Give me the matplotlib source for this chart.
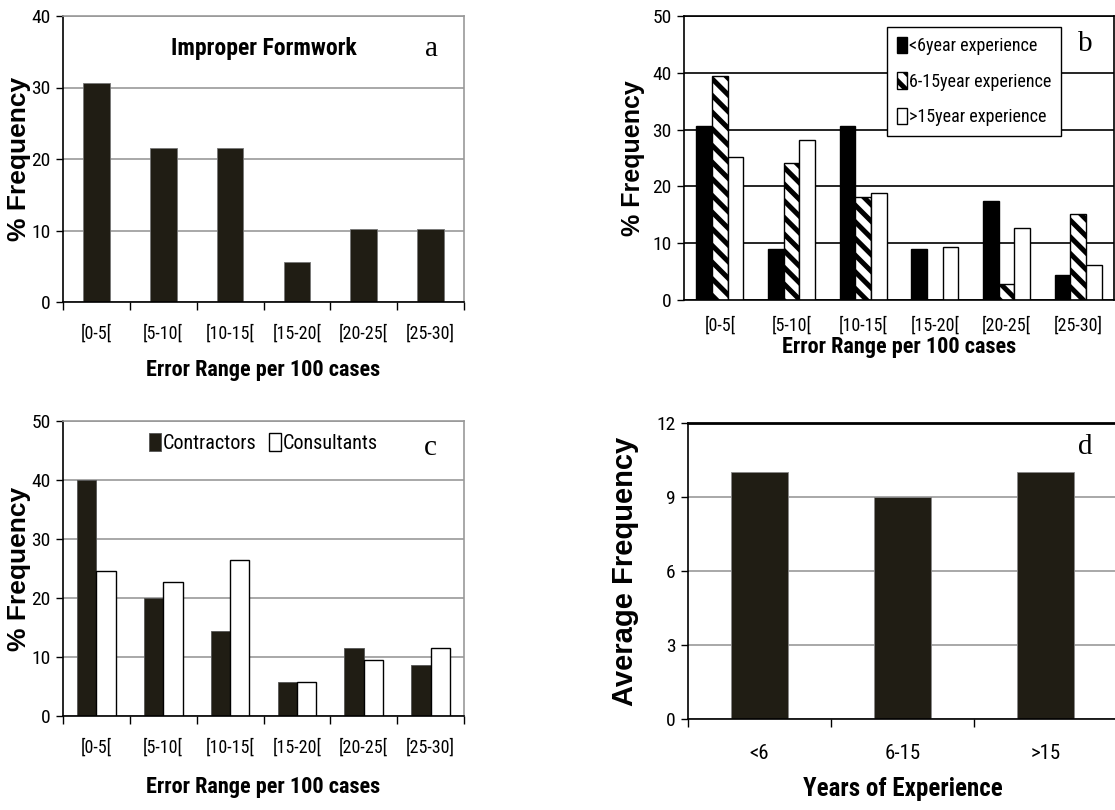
import numpy as np
import matplotlib
matplotlib.use("Agg")
import matplotlib.pyplot as plt
import matplotlib.font_manager as fm

# data
ranges = ["[0-5[", "[5-10[", "[10-15[", "[15-20[", "[20-25[", "[25-30]"]
formwork = [30.6, 21.5, 21.5, 5.6, 10.2, 10.2]

exp_less6 = [30.6, 8.9, 30.6, 8.9, 17.5, 4.4]
exp_6_15 = [39.4, 24.1, 18.1, 0.0, 2.9, 15.1]
exp_more15 = [25.1, 28.2, 18.9, 9.3, 12.6, 6.2]
exp_labels = ["<6year experience", "6-15year experience", ">15year experience"]

contractors = [40.0, 20.0, 14.4, 5.7, 11.5, 8.6]
consultants = [24.6, 22.7, 26.5, 5.7, 9.5, 11.5]

years = ["<6", "6-15", ">15"]
avg_freq = [10.0, 9.0, 10.0]

ARIAL = ["Liberation Sans", "DejaVu Sans"]
SERIF = ["Liberation Serif", "DejaVu Serif"]
DARK = "#201d14"
GRIDGREY = "#999999"


# look for an installed narrow/condensed sans (the chart uses Arial Narrow)
def _w(f):
    w = f.weight
    if isinstance(w, str):
        w = {"bold": 700, "semibold": 600, "demibold": 600, "heavy": 800, "black": 900,
             "normal": 400, "regular": 400, "book": 400, "medium": 500, "light": 300}.get(w.lower(), 400)
    return w


def pick_narrow(bold):
    order = ["Liberation", "Arial", "Roboto", "Noto Sans", "Open Sans", "DejaVu", "Lato", "Inter"]
    best = None
    for f in fm.fontManager.ttflist:
        narrow = ("Narrow" in f.name or "Condensed" in f.name or
                  f.stretch in ("condensed", "semi-condensed", "extra-condensed", 600, 500) or
                  "Condensed" in f.fname or "Narrow" in f.fname)
        if not narrow or f.style != "normal" or "Mono" in f.name or "Serif" in f.name:
            continue
        if "Extra" in f.fname or "Semi" in f.fname:
            continue
        w = _w(f)
        if bold and w < 600 or (not bold) and w >= 600 or w < 400:
            continue
        rank = next((i for i, o in enumerate(order) if o in f.name), len(order))
        if best is None or rank < best[0]:
            best = (rank, f.fname)
    if best is None:
        return dict(family="Liberation Sans", weight="bold" if bold else "normal")
    return dict(fname=best[1])


NREG = pick_narrow(False)
NBOLD = pick_narrow(True)


def fp(d, size):
    return fm.FontProperties(size=size, **d)


plt.rcParams["hatch.linewidth"] = 3.6

W, H = 1115, 810
fig = plt.figure(figsize=(W / 100, H / 100), dpi=100)


def add_ax(left, right, top, bottom):
    return fig.add_axes([left / W, 1 - bottom / H, (right - left) / W, (bottom - top) / H])


def style(ax, ymax, step, grid_color, frame_color, xticks=True, lsize=13):
    ax.set_ylim(0, ymax)
    ax.set_yticks(np.arange(0, ymax + 0.1, step))
    ax.yaxis.grid(True, color=grid_color, lw=1.2)
    ax.set_axisbelow(True)
    for s in ["top", "right"]:
        ax.spines[s].set_color(frame_color)
        ax.spines[s].set_linewidth(1.2)
    for s in ["left", "bottom"]:
        ax.spines[s].set_color("black")
        ax.spines[s].set_linewidth(1.2)
    ax.tick_params(axis="y", direction="out", length=5, width=1, pad=4)
    ax.tick_params(axis="x", which="major", length=0)
    if xticks:
        ax.tick_params(axis="x", which="minor", direction="out", length=6, width=1)
    for lbl in ax.get_yticklabels():
        lbl.set_fontproperties(fp(NREG, 14))
    for lbl in ax.get_xticklabels():
        lbl.set_fontproperties(fp(NREG, lsize))


def cat_axis(ax, labels, pad):
    n = len(labels)
    ax.set_xlim(-0.5, n - 0.5)
    ax.set_xticks(np.arange(n))
    ax.set_xticklabels(labels)
    ax.set_xticks(np.arange(n + 1) - 0.5, minor=True)
    ax.tick_params(axis="x", which="major", pad=pad)


x = np.arange(len(ranges))

# ---- a
ax = add_ax(63, 464, 16, 302)
ax.bar(x, formwork, width=0.4, color=DARK, edgecolor="#777777", lw=0.6)
cat_axis(ax, ranges, 16)
style(ax, 40, 10, GRIDGREY, GRIDGREY)
ax.text(0.5, 0.885, "Improper Formwork", transform=ax.transAxes, ha="center", va="center",
        fontproperties=fp(NBOLD, 17))
ax.text(0.92, 0.885, "a", transform=ax.transAxes, ha="center", va="center", fontsize=21, family=SERIF)
ax.set_ylabel("% Frequency", fontsize=19, fontweight="bold", family=ARIAL)
ax.yaxis.set_label_coords(-0.08, 0.5)
ax.set_xlabel("Error Range per 100 cases", fontproperties=fp(NBOLD, 16))
ax.xaxis.set_label_coords(0.5, -0.2)

# ---- b
ax = add_ax(684, 1114, 16, 300)
bw = 0.22
ax.bar(x - bw, exp_less6, width=bw, color="black", edgecolor="black", lw=1, label=exp_labels[0])
ax.bar(x, exp_6_15, width=bw, color="white", edgecolor="black", lw=1, hatch="\\\\", label=exp_labels[1])
ax.bar(x + bw, exp_more15, width=bw, color="white", edgecolor="black", lw=1, label=exp_labels[2])
cat_axis(ax, ranges, 12)
style(ax, 50, 10, "black", "black", xticks=False)
ax.tick_params(axis="x", which="minor", length=0)
leg = ax.legend(loc="upper left", bbox_to_anchor=(0.472, 0.961), borderaxespad=0, prop=fp(NREG, 13),
                fancybox=False, edgecolor="black", framealpha=1, handlelength=0.55, handleheight=1.0,
                handletextpad=0.1, labelspacing=0.95, borderpad=0.55)
leg.get_frame().set_linewidth(1.0)
ax.text(0.933, 0.9, "b", transform=ax.transAxes, ha="center", va="center", fontsize=21, family=SERIF)
ax.set_ylabel("% Frequency", fontsize=18, fontweight="bold", family=ARIAL)
ax.yaxis.set_label_coords(-0.09, 0.5)
ax.set_xlabel("Error Range per 100 cases", fontproperties=fp(NBOLD, 16))
ax.xaxis.set_label_coords(0.5, -0.125)

# ---- c
ax = add_ax(63, 464, 421, 716)
cw = 0.29
ax.bar(x - cw / 2, contractors, width=cw, color=DARK, edgecolor="#555555", lw=0.6, label="Contractors")
ax.bar(x + cw / 2, consultants, width=cw, color="white", edgecolor="black", lw=1, label="Consultants")
cat_axis(ax, ranges, 16)
style(ax, 50, 10, GRIDGREY, GRIDGREY)
ax.legend(loc="center", bbox_to_anchor=(0.5, 0.925), ncol=2, frameon=False, prop=fp(NREG, 14.5),
          handlelength=0.6, handleheight=1.0, handletextpad=0.1, columnspacing=0.6)
ax.text(0.915, 0.91, "c", transform=ax.transAxes, ha="center", va="center", fontsize=21, family=SERIF)
ax.set_ylabel("% Frequency", fontsize=19, fontweight="bold", family=ARIAL)
ax.yaxis.set_label_coords(-0.08, 0.5)
ax.set_xlabel("Error Range per 100 cases", fontproperties=fp(NBOLD, 16))
ax.xaxis.set_label_coords(0.5, -0.205)

# ---- d
ax = add_ax(688, 1117, 423, 719)
xd = np.arange(len(years))
ax.bar(xd, avg_freq, width=0.4, color=DARK, edgecolor="#888888", lw=0.6)
cat_axis(ax, years, 18)
style(ax, 12, 3, GRIDGREY, "black", lsize=15)
ax.spines["top"].set_linewidth(2)
ax.spines["right"].set_visible(False)
ax.text(0.926, 0.92, "d", transform=ax.transAxes, ha="center", va="center", fontsize=21, family=SERIF)
ax.set_ylabel("Average Frequency", fontsize=21, fontweight="bold", family=ARIAL)
ax.yaxis.set_label_coords(-0.115, 0.5)
ax.set_xlabel("Years of Experience", fontproperties=fp(NBOLD, 18))
ax.xaxis.set_label_coords(0.5, -0.195)

fig.savefig("out.png", dpi=100)
